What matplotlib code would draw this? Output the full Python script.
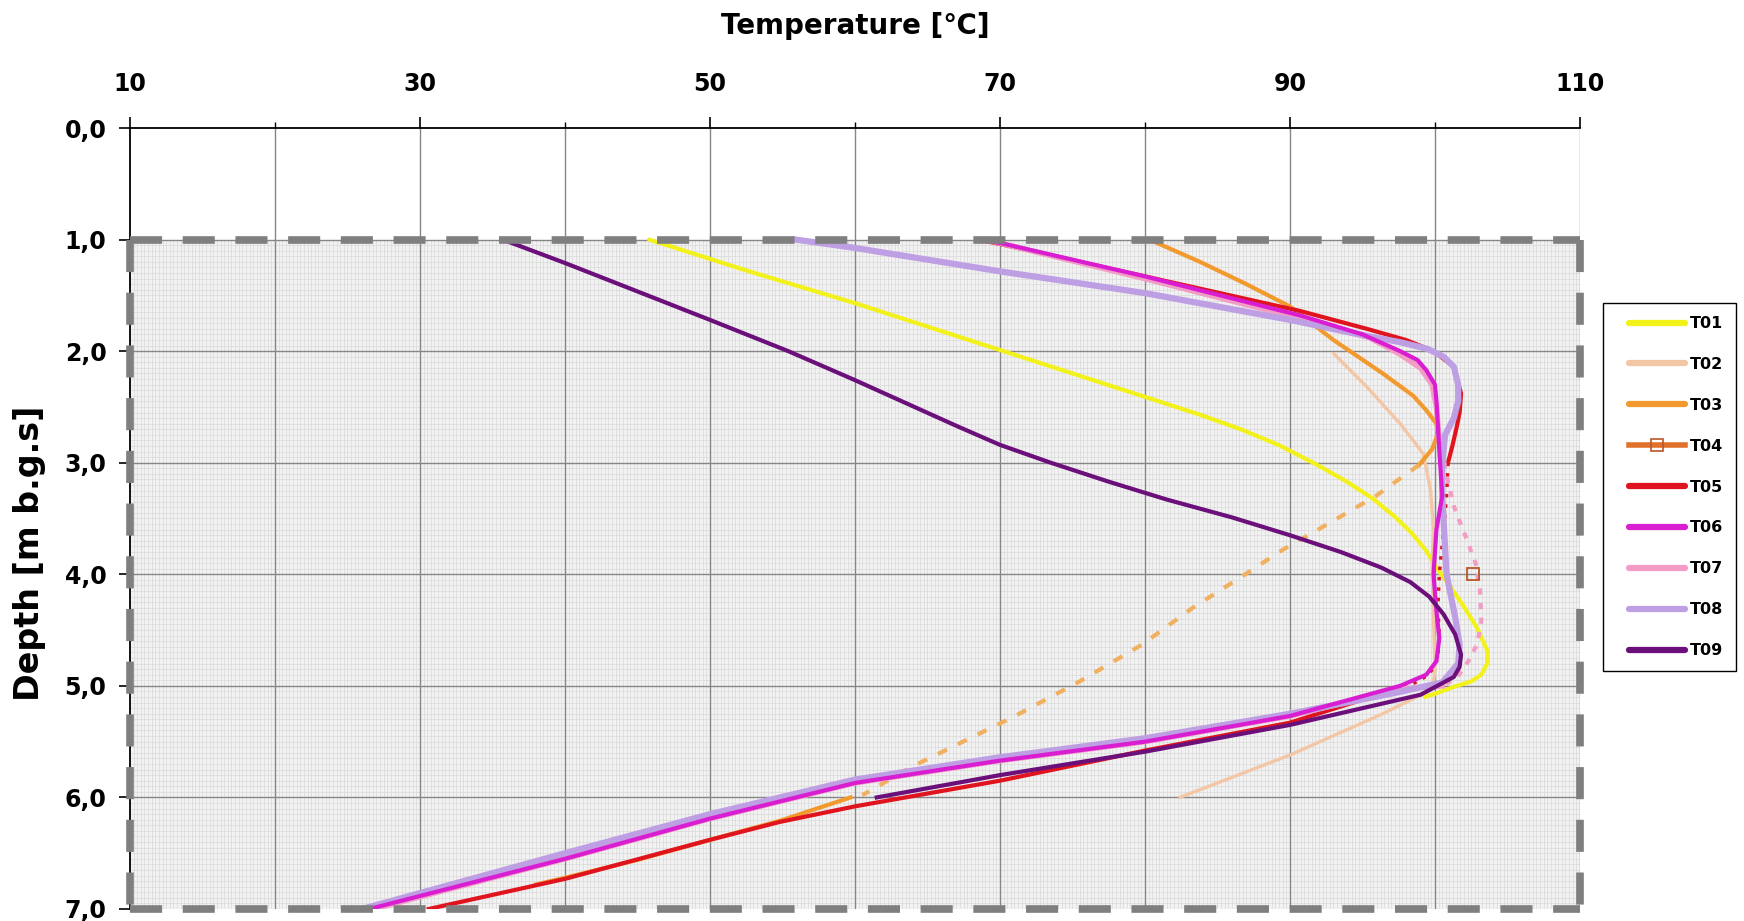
import matplotlib
matplotlib.use("Agg")
import matplotlib.pyplot as plt
import numpy as np
from matplotlib.lines import Line2D
from matplotlib.patches import Rectangle
from matplotlib.legend_handler import HandlerLine2D

# ---------------- data (temperature in degC, depth in m b.g.s) ----------------
series_names = ["T01", "T02", "T03", "T04", "T05", "T06", "T07", "T08", "T09"]

t01_temp = [45.8, 52.7, 60.0, 70.0, 80.0, 83.8, 86.6, 89.2, 91.6, 93.8, 95.7, 97.2, 98.4, 99.4,
            100.2, 101.0, 101.9, 102.9, 103.6, 103.6, 103.2, 102.5, 101.5, 100.0, 99.3]
t01_depth = [1.0, 1.285, 1.57, 1.99, 2.41, 2.57, 2.7, 2.84, 3.0, 3.16, 3.32, 3.48, 3.63, 3.79,
             3.96, 4.1, 4.27, 4.48, 4.68, 4.8, 4.9, 4.96, 5.0, 5.07, 5.1]

t02_temp = [93.0, 95.3, 97.6, 99.2, 99.7, 99.9, 99.8, 99.9, 100.0, 99.9, 99.5, 96.4, 90.0, 82.4]
t02_depth = [2.02, 2.32, 2.65, 2.92, 3.25, 3.6, 3.96, 4.39, 4.85, 4.97, 5.05, 5.25, 5.62, 6.0]

t03_temp_upper = [80.3, 83.8, 87.0, 90.0, 93.0, 96.4, 98.5, 99.4, 100.1, 100.2, 99.8, 98.9]
t03_depth_upper = [1.0, 1.2, 1.4, 1.6, 1.9, 2.2, 2.4, 2.53, 2.65, 2.74, 2.88, 3.02]
t03_temp_gap = [98.9, 95.9, 92.6, 89.5, 86.8, 83.3, 79.8, 75.5, 70.9, 64.0, 60.5]
t03_depth_gap = [3.02, 3.3, 3.55, 3.78, 4.01, 4.3, 4.63, 4.96, 5.28, 5.72, 5.98]
t03_temp_lower = [59.7, 54.8, 50.0, 45.0, 40.0, 38.0]
t03_depth_lower = [6.0, 6.21, 6.38, 6.56, 6.72, 6.78]

t04_temp = [102.6]
t04_depth = [4.0]

t05_temp_upper = [68.5, 70.0, 80.0, 90.7, 95.3, 98.0, 99.9, 101.3, 101.8, 101.7, 101.5, 101.2, 100.9]
t05_depth_upper = [1.0, 1.04, 1.33, 1.64, 1.8, 1.9, 2.0, 2.14, 2.38, 2.55, 2.68, 2.85, 3.0]
t05_temp_mid = [100.9, 100.8, 100.6, 100.3, 100.2, 100.3, 100.2, 99.6, 98.5, 97.0]
t05_depth_mid = [3.0, 3.3, 3.6, 4.0, 4.3, 4.55, 4.75, 4.9, 4.98, 5.04]
t05_temp_lower = [97.0, 90.0, 80.0, 70.0, 60.0, 54.8, 50.0, 40.0, 30.6]
t05_depth_lower = [5.04, 5.33, 5.58, 5.85, 6.08, 6.22, 6.38, 6.73, 7.0]

t06_temp = [68.7, 70.0, 80.0, 90.7, 95.0, 97.6, 98.8, 99.4, 100.0, 100.1, 100.3, 100.5, 100.1,
            99.9, 100.1, 100.3, 100.1, 99.4, 97.6, 90.0, 80.0, 70.0, 60.0, 50.0, 40.0, 26.5]
t06_depth = [1.0, 1.03, 1.33, 1.68, 1.85, 2.0, 2.08, 2.17, 2.3, 2.44, 2.89, 3.3, 3.6,
             4.0, 4.33, 4.57, 4.78, 4.9, 5.0, 5.27, 5.5, 5.67, 5.87, 6.19, 6.55, 7.0]

t07_temp_upper = [69.0, 80.0, 90.5, 95.5, 97.5, 99.0, 99.8, 100.1, 100.3, 100.6]
t07_depth_upper = [1.0, 1.35, 1.7, 1.88, 2.02, 2.15, 2.3, 2.5, 2.8, 3.0]
t07_temp_mid = [100.6, 101.3, 102.2, 102.8, 103.1, 103.2, 102.9, 102.3, 101.5, 100.5]
t07_depth_mid = [3.0, 3.39, 3.69, 3.9, 4.14, 4.42, 4.63, 4.78, 4.93, 5.0]
t07_temp_lower = [100.5, 97.5, 90.0, 80.0, 70.0, 60.0, 50.0, 40.0, 26.8]
t07_depth_lower = [5.0, 5.03, 5.27, 5.5, 5.67, 5.87, 6.19, 6.55, 7.0]

t08_temp = [55.9, 60.0, 70.0, 80.0, 90.0, 94.0, 97.6, 99.5, 100.6, 101.3, 101.6, 101.6, 101.3,
            100.7, 100.5, 100.5, 100.8, 101.4, 101.7, 101.6, 100.5, 97.0, 90.0, 80.0, 70.0,
            60.0, 50.0, 40.0, 26.0]
t08_depth = [1.0, 1.075, 1.285, 1.48, 1.72, 1.83, 1.92, 1.98, 2.05, 2.14, 2.3, 2.45, 2.6,
             2.75, 3.0, 3.3, 4.0, 4.39, 4.63, 4.8, 4.97, 5.07, 5.25, 5.47, 5.64,
             5.84, 6.15, 6.5, 7.0]

t09_temp = [35.7, 40.0, 50.0, 55.4, 60.0, 67.0, 70.0, 73.5, 77.5, 81.5, 86.0, 90.0, 93.5, 96.3,
            98.3, 99.6, 100.6, 101.4, 101.8, 101.7, 101.3, 100.3, 99.0, 90.0, 80.0, 70.0, 61.5]
t09_depth = [1.0, 1.21, 1.72, 2.0, 2.26, 2.67, 2.84, 3.0, 3.17, 3.33, 3.49, 3.65, 3.8, 3.94,
             4.07, 4.2, 4.36, 4.54, 4.72, 4.83, 4.92, 4.99, 5.08, 5.35, 5.59, 5.8, 6.0]

x_ticks = [10, 30, 50, 70, 90, 110]
x_tick_labels = ["10", "30", "50", "70", "90", "110"]
y_ticks = [0, 1, 2, 3, 4, 5, 6, 7]
y_tick_labels = ["0,0", "1,0", "2,0", "3,0", "4,0", "5,0", "6,0", "7,0"]

# ---------------- styles ----------------
colors = {
    "T01": "#f2f21a", "T02": "#f3c6a5", "T03": "#f29a2e", "T04": "#e0712c",
    "T05": "#e0141e", "T06": "#d91ed2", "T07": "#f29cc6", "T08": "#bf9fe3",
    "T09": "#6b0f7a",
}

plt.rcParams["font.family"] = ["DejaVu Sans"]
plt.rcParams["font.weight"] = "bold"

fig = plt.figure(figsize=(17.44, 9.21), dpi=100)
ax = fig.add_axes([0.07454, 0.01303, 0.8314, 0.84799])
ax.set_xlim(10, 110)
ax.set_ylim(7, 0)

# shaded measurement region with fine grid
ax.add_patch(Rectangle((10, 1), 100, 6, facecolor="#f2f2f2", edgecolor="none", zorder=0))
ax.vlines(np.arange(10.25, 110, 0.25), 1, 7, colors="#d9d9d9", lw=0.5, zorder=0.5)
ax.hlines(np.arange(1.05, 7, 0.05), 10, 110, colors="#d9d9d9", lw=0.5, zorder=0.5)

# major grid
ax.vlines(np.arange(20, 111, 10), 0, 7, colors="#868686", lw=1.0, zorder=1)
ax.hlines(np.arange(1, 7, 1), 10, 110, colors="#868686", lw=1.0, zorder=1)

# curves
lw = dict(T01=3.0, T02=2.4, T03=3.0, T05=3.0, T06=3.0, T07=4.0, T08=4.5, T09=3.0)
ax.plot(t01_temp, t01_depth, color=colors["T01"], lw=lw["T01"], zorder=3, solid_capstyle="round")
ax.plot(t02_temp, t02_depth, color=colors["T02"], lw=lw["T02"], zorder=3, solid_capstyle="round")
ax.plot(t03_temp_upper, t03_depth_upper, color=colors["T03"], lw=lw["T03"], zorder=3)
ax.plot(t03_temp_gap, t03_depth_gap, color="#f0b060", lw=3.0, ls=(0, (2.4, 2.9)), zorder=3)
ax.plot(t03_temp_lower, t03_depth_lower, color=colors["T03"], lw=lw["T03"], zorder=3)
ax.plot(t04_temp, t04_depth, ls="none", marker="s", ms=9, mfc="none", mec="#b8562a", mew=1.3, zorder=6)
ax.plot(t05_temp_upper, t05_depth_upper, color=colors["T05"], lw=lw["T05"], zorder=3)
ax.plot(t05_temp_mid, t05_depth_mid, color=colors["T05"], lw=2.5, ls=(0, (1, 2)), zorder=3)
ax.plot(t05_temp_lower, t05_depth_lower, color=colors["T05"], lw=lw["T05"], zorder=3)
ax.plot(t07_temp_upper, t07_depth_upper, color=colors["T07"], lw=lw["T07"], zorder=3)
ax.plot(t07_temp_mid, t07_depth_mid, color=colors["T07"], lw=3.0, ls=(0, (1.5, 2.0)), zorder=3)
ax.plot(t07_temp_lower, t07_depth_lower, color=colors["T07"], lw=lw["T07"], zorder=3)
ax.plot(t08_temp, t08_depth, color=colors["T08"], lw=lw["T08"], zorder=3)
ax.plot(t06_temp, t06_depth, color=colors["T06"], lw=lw["T06"], zorder=3.2)
ax.plot(t09_temp, t09_depth, color=colors["T09"], lw=lw["T09"], zorder=3.3)

# dashed border around measurement region
border_kw = dict(color="#7f7f7f", lw=5.5, ls=(0, (4.2, 2.7)), clip_on=False, zorder=5,
                 solid_capstyle="butt", dash_capstyle="butt")
ax.plot([10, 110], [1, 1], **border_kw)
ax.plot([110, 110], [1, 7], **border_kw)
ax.plot([10, 110], [7, 7], **border_kw)
ax.plot([10, 10], [1, 7], **border_kw)

# axes styling
for s in ["right", "bottom"]:
    ax.spines[s].set_visible(False)
for s in ["top", "left"]:
    ax.spines[s].set_color("black")
    ax.spines[s].set_linewidth(1.3)
    ax.spines[s].set_zorder(4)

ax.xaxis.tick_top()
ax.xaxis.set_label_position("top")
ax.set_xticks(x_ticks)
ax.set_xticklabels(x_tick_labels, fontsize=17, fontweight="bold")
ax.set_xticks(np.arange(20, 110, 20), minor=True)
ax.set_yticks(y_ticks)
ax.set_yticklabels(y_tick_labels, fontsize=17, fontweight="bold")
ax.tick_params(axis="x", which="major", direction="out", length=8, width=1.2, pad=15)
ax.tick_params(axis="x", which="minor", direction="out", length=4, width=1.0)
ax.tick_params(axis="y", which="major", direction="out", length=8, width=1.2, pad=9)

ax.set_xlabel("Temperature [\u2103]", fontsize=20, fontweight="bold")
ax.xaxis.set_label_coords(0.5, 1.12)
ax.set_ylabel("Depth [m b.g.s]", fontsize=24, fontweight="bold")
ax.yaxis.set_label_coords(-0.058, 0.456)


# legend (handles start a little right of the box edge, as in the reference)
class ShiftedLineHandler(HandlerLine2D):
    def __init__(self, shift, **kw):
        super().__init__(**kw)
        self.shift = shift

    def create_artists(self, legend, orig_handle, xdescent, ydescent, width, height,
                       fontsize, trans):
        return super().create_artists(legend, orig_handle, xdescent - self.shift, ydescent,
                                      width - self.shift, height, fontsize, trans)


handles = []
for name in series_names:
    if name == "T04":
        h = Line2D([], [], color=colors[name], lw=4, marker="s", ms=8, mfc="none",
                   mec="#b8562a", mew=1.2)
    else:
        h = Line2D([], [], color=colors[name], lw=4.5, solid_capstyle="round")
    handles.append(h)
leg = ax.legend(handles, series_names, loc="upper left",
                bbox_to_anchor=(1603 / 1744, 1 - 303 / 921), bbox_transform=fig.transFigure,
                frameon=True, fancybox=False, edgecolor="black", framealpha=1,
                prop=dict(size=11.5, weight="bold"), handlelength=4.3, handletextpad=0.3,
                labelspacing=1.62, borderpad=0.82, borderaxespad=0,
                handler_map={Line2D: ShiftedLineHandler(9.4, numpoints=1)})
leg.get_frame().set_linewidth(1.0)

fig.savefig("out.png", dpi=100)
